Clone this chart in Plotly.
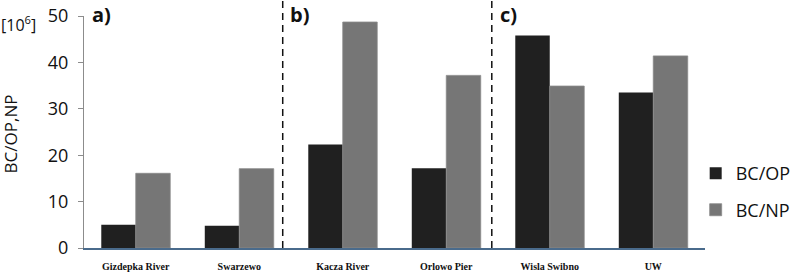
import plotly.graph_objects as go

sites = ["Gizdepka River", "Swarzewo", "Kacza River", "Orlowo Pier", "Wisla Swibno", "UW"]
bc_op = [5.0, 4.8, 22.3, 17.2, 45.8, 33.5]
bc_np = [16.1, 17.1, 48.7, 37.2, 34.9, 41.4]
y_ticks = [0, 10, 20, 30, 40, 50]
panel_labels = ["a)", "b)", "c)"]
panel_x = [-0.44, 1.47, 3.50]
divider_x = [1.42, 3.44]

fig = go.Figure()
fig.add_trace(go.Bar(x=sites, y=bc_op, name="BC/OP", legendgroup="a",
                     marker=dict(color="#202020", line=dict(width=0))))
fig.add_trace(go.Bar(x=sites, y=bc_np, name="BC/NP", legendgroup="b",
                     marker=dict(color="#767676", line=dict(width=0.8, color="#8a8a8a"))))

for xv in divider_x:
    fig.add_shape(type="line", xref="x", yref="paper", x0=xv, x1=xv, y0=0, y1=1.07,
                  line=dict(color="#111", width=1.5, dash="7px,5px"))

for lab, xv in zip(panel_labels, panel_x):
    fig.add_annotation(text=lab, xref="x", yref="paper", x=xv, y=1.005, xanchor="left",
                       yanchor="middle", showarrow=False,
                       font=dict(family="Open Sans", size=20, color="#111", weight="bold"))

fig.add_annotation(text="BC/OP,NP", xref="paper", yref="paper", x=-74/621.5, y=0.49,
                   textangle=-90, showarrow=False, xanchor="center", yanchor="middle",
                   font=dict(family="Open Sans", size=17, color="#111"))
fig.add_annotation(text="[10<sup>6</sup>]", xref="paper", yref="paper", x=-85/621.5, y=0.965,
                   showarrow=False, xanchor="left", yanchor="middle",
                   font=dict(family="Open Sans", size=16, color="#111"))

fig.update_layout(
    width=796, height=272,
    margin=dict(l=83.5, r=91, t=16, b=23.5, autoexpand=False),
    paper_bgcolor="white", plot_bgcolor="white",
    barmode="group", bargap=0.334, bargroupgap=0,
    showlegend=True,
    legend=dict(x=0.985, xanchor="left", y=0.243, yanchor="middle",
                traceorder="grouped", tracegroupgap=10,
                font=dict(family="Open Sans", size=18, color="#111"),
                bgcolor="rgba(0,0,0,0)"),
    xaxis=dict(showline=True, linecolor="#4a6b8c", linewidth=1.5, showgrid=False,
               ticks="", ticklabelstandoff=8, automargin=False,
               tickfont=dict(family="Liberation Serif", size=10, color="#111", weight="bold")),
    yaxis=dict(range=[0, 50], tickvals=y_ticks, showline=True, linecolor="#8c8c8c",
               linewidth=1, showgrid=False, zeroline=False, ticks="outside", ticklen=5,
               tickcolor="#8c8c8c", ticklabelstandoff=6, automargin=False,
               tickfont=dict(family="Open Sans", size=18, color="#111")),
)

fig.write_html("out.html", config={"displayModeBar": False},
               post_script="document.body.style.margin='0';")
